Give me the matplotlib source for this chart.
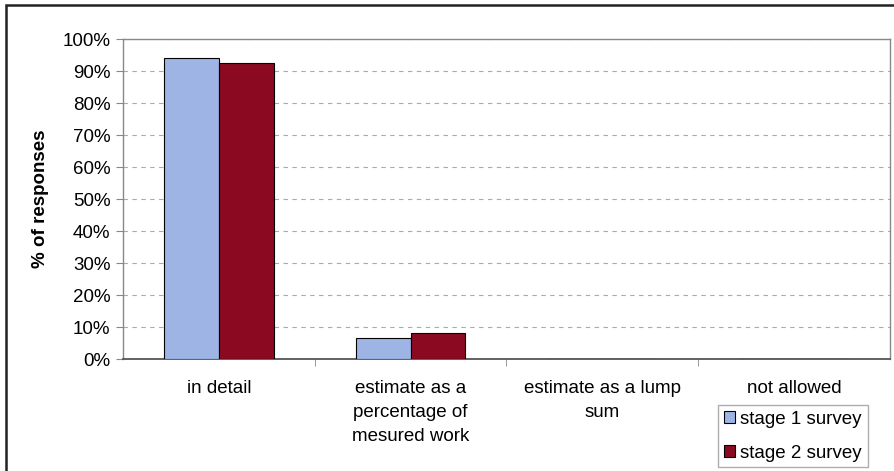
import matplotlib.pyplot as plt
from matplotlib.patches import Rectangle
from matplotlib.ticker import FixedLocator, PercentFormatter

CATEGORIES = ["in detail", "estimate as a\npercentage of\nmesured work",
              "estimate as a lump\nsum", "not allowed"]
STAGE1 = [94, 6.5, 0, 0]
STAGE2 = [92.5, 8, 0, 0]
SERIES = ["stage 1 survey", "stage 2 survey"]
COLORS = ["#9DB4E4", "#8B0A22"]

plt.rcParams["font.family"] = ["Liberation Sans", "DejaVu Sans"]

fig = plt.figure(figsize=(8.95, 4.71), dpi=100)
W, H = 895, 471
ax = fig.add_axes([123 / W, 1 - 359 / H, (890 - 123) / W, (359 - 39) / H])

x = list(range(len(CATEGORIES)))
bw = 0.286
ax.bar([i - bw / 2 for i in x], STAGE1, width=bw, color=COLORS[0],
       edgecolor="black", linewidth=0.8, label=SERIES[0], zorder=3)
ax.bar([i + bw / 2 for i in x], STAGE2, width=bw, color=COLORS[1],
       edgecolor="black", linewidth=0.8, label=SERIES[1], zorder=3)

ax.set_xlim(-0.5, len(CATEGORIES) - 0.5)
ax.set_ylim(0, 100)
ax.set_yticks(range(0, 101, 10))
ax.yaxis.set_major_formatter(PercentFormatter(decimals=0))
ax.set_xticks(x)
ax.set_xticklabels(CATEGORIES, fontsize=13.5, linespacing=1.55, va="top")
ax.tick_params(axis="x", length=0, pad=15)
ax.xaxis.set_minor_locator(FixedLocator([i + 0.5 for i in x[:-1]]))
ax.tick_params(axis="x", which="minor", length=5, color="#888888", direction="out")
ax.tick_params(axis="y", labelsize=13.5, length=5, color="#888888", pad=4)
ax.set_ylabel("% of responses", fontsize=13.5, fontweight="bold", labelpad=10)
ax.grid(axis="y", linestyle=(0, (4, 4)), color="#AAAAAA", linewidth=0.8, zorder=0)
for s in ax.spines.values():
    s.set_color("#888888")
    s.set_linewidth(1.0)
ax.spines["bottom"].set_color("#555555")
ax.spines["bottom"].set_linewidth(1.3)

fig.legend(loc="upper left", bbox_to_anchor=(718 / W, 1 - 405 / H),
           fontsize=13.5, frameon=True, fancybox=False, edgecolor="#999999",
           handlelength=0.6, handleheight=0.6, handletextpad=0.3,
           labelspacing=0.9, borderpad=0.3, borderaxespad=0)

fig.patches.append(Rectangle((6 / W, -0.01), 1.0, 1 - 5 / H + 0.01,
                             transform=fig.transFigure, fill=False,
                             edgecolor="#222222", linewidth=1.8))

fig.savefig("out.png", dpi=100)
